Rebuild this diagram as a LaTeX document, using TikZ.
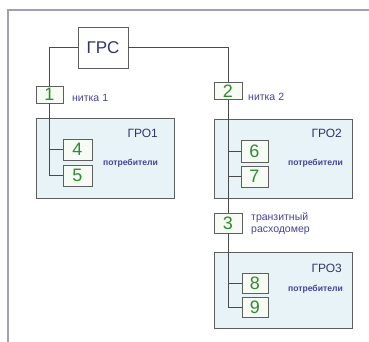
\documentclass[tikz,border=0pt]{standalone}
\usepackage{fontspec}
\setmainfont{Liberation Sans}
\begin{document}
\begin{tikzpicture}[x=1pt,y=-1pt,
  frameline/.style={draw=frame,line width=1.1pt},
  grobox/.style={draw=boxgray,fill=grofill,line width=0.8pt,inner sep=0pt},
  numbox/.style={draw=boxgray,fill=numfill,line width=0.8pt,inner sep=0pt,
    minimum width=28pt,minimum height=21pt,text=numgreen,font=\fontsize{18}{18}\selectfont},
  conn/.style={draw=connc,line width=0.8pt},
  lbl/.style={text=lblblue,inner sep=0pt,font=\fontsize{10.5}{12}\selectfont},
  cons/.style={text=lblblue,inner sep=0pt,font=\fontsize{8.6}{9}\selectfont\bfseries},
  groname/.style={text=groblue,inner sep=0pt,font=\fontsize{12}{12}\selectfont}]
\definecolor{frame}{HTML}{A0A0B4}
\definecolor{boxgray}{HTML}{5E5E5E}
\definecolor{grofill}{HTML}{E8F3F8}
\definecolor{numfill}{HTML}{F6FBF3}
\definecolor{numgreen}{HTML}{2F8A32}
\definecolor{connc}{HTML}{4A4A4A}
\definecolor{lblblue}{HTML}{44449A}
\definecolor{groblue}{HTML}{33336E}
\useasboundingbox (0,0) rectangle (369,342);
\fill[white] (0,0) rectangle (369,342);
% outer frame
\coordinate (fbl) at (8,342);
\coordinate (ftl) at (8,10);
\coordinate (ftr) at (369,10);
\draw[frameline] (fbl) -- (ftl) -- (ftr);
% GRO areas
\node[grobox,minimum width=138pt,minimum height=80pt] (gro1) at (105,158) {};
\node[grobox,minimum width=138pt,minimum height=79pt] (gro2) at (283,158.5) {};
\node[grobox,minimum width=138pt,minimum height=76pt] (gro3) at (283,290) {};
\node[groname,anchor=east] (g1t) at (158,133) {ГРО1};
\node[groname,anchor=east] (g2t) at (342,133) {ГРО2};
\node[groname,anchor=east] (g3t) at (342,268) {ГРО3};
\node[cons,anchor=east] (c1) at (158,163) {потребители};
\node[cons,anchor=east] (c2) at (343,163) {потребители};
\node[cons,anchor=east] (c3) at (343,289) {потребители};
% GRS
\node[draw=boxgray,fill=white,line width=0.8pt,minimum width=50pt,minimum height=41pt,
  inner sep=0pt,text=groblue,font=\fontsize{17}{17}\selectfont] (grs) at (103,47.5) {ГРС};
% metering boxes
\node[numbox,minimum width=27pt,minimum height=17pt] (n1) at (49.5,94.5) {1};
\node[numbox,minimum height=17pt] (n2) at (228,91) {2};
\node[numbox,minimum height=20pt] (n3) at (228,223) {3};
\node[numbox,minimum width=29pt] (n4) at (77.5,149.5) {4};
\node[numbox,minimum width=29pt] (n5) at (77.5,175.5) {5};
\node[numbox,minimum width=27pt,minimum height=22pt] (n6) at (254.5,151) {6};
\node[numbox,minimum width=27pt] (n7) at (254.5,176.5) {7};
\node[numbox,minimum width=26pt,minimum height=20pt] (n8) at (255,283) {8};
\node[numbox,minimum width=26pt,minimum height=20pt] (n9) at (255,307) {9};
% labels
\node[lbl,anchor=west] (l1) at (72,98) {нитка 1};
\node[lbl,anchor=west] (l2) at (248,97) {нитка 2};
\node[lbl,anchor=west,align=left] (l3) at (251,224) {транзитный\\расходомер};
% connectors
\draw[conn] (grs.west) -| (n1.north);
\draw[conn] (grs.east) -| (n2.north);
\draw[conn] (n1.south) |- (n4.west);
\draw[conn] (n1.south) |- (n5.west);
\draw[conn] (n2.south) |- (n6.west);
\draw[conn] (n2.south) |- (n7.west);
\draw[conn] (n2.south) -- (n3.north);
\draw[conn] (n3.south) |- (n8.west);
\draw[conn] (n3.south) |- (n9.west);
\end{tikzpicture}
\end{document}
